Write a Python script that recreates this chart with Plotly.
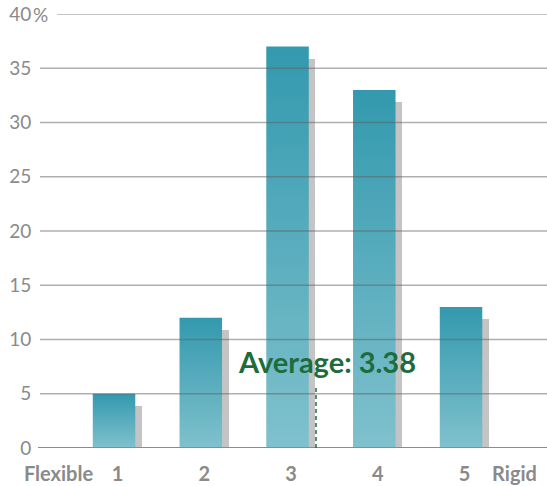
import plotly.graph_objects as go

# ---- data ----
categories = [1, 2, 3, 4, 5]
x_tick_text = ["Flexible", "1", "2", "3", "4", "5", "Rigid"]
x_tick_pos = [0.32, 1, 2, 3, 4, 5, 5.576]
values = [5, 12, 37, 33, 13]
shadow_values = [3.85, 10.85, 35.85, 31.9, 11.85]
average = 3.38
average_line_top = 5.8
y_ticks = [0, 5, 10, 15, 20, 25, 30, 35, 40]
y_tick_text = ["0", "5", "10", "15", "20", "25", "30", "35", "40"]

# ---- style ----
FONT = "Lato"
GRAY_TXT = "#8a8a8a"
TEAL_TOP = "#3399ae"
TEAL_BOT = "#80c1cd"
SHADOW = "#c4c4c4"
GREEN = "#1e6b3c"
BAR_W = 0.49
TEAL_SHIFT = -0.04
SHADOW_SHIFT = 0.075

fig = go.Figure()

# shadow bars
fig.add_trace(go.Bar(
    x=categories, y=shadow_values, width=BAR_W,
    offset=-BAR_W / 2 + TEAL_SHIFT + SHADOW_SHIFT,
    marker=dict(color=SHADOW, line=dict(width=0)),
    hoverinfo="skip", showlegend=False,
))

# teal gradient bars
for c, v in zip(categories, values):
    l = c + TEAL_SHIFT - BAR_W / 2
    r = c + TEAL_SHIFT + BAR_W / 2
    fig.add_trace(go.Scatter(
        x=[l, l, r, r, l], y=[0, v, v, 0, 0],
        mode="lines", fill="toself", line=dict(width=0),
        fillgradient=dict(type="vertical",
                          colorscale=[[0, TEAL_BOT], [1, TEAL_TOP]]),
        hoverinfo="skip", showlegend=False,
    ))

shapes = []
# gridlines above bars
for t in y_ticks[1:]:
    shapes.append(dict(
        type="line", xref="paper", yref="y", layer="above",
        xsizemode="pixel", xanchor=0,
        x0=18 if t == y_ticks[-1] else 1, x1=520, y0=t, y1=t,
        line=dict(color="rgba(95,95,95,0.5)", width=1.5),
    ))
# baseline
shapes.append(dict(
    type="line", xref="paper", yref="y", layer="above",
    xsizemode="pixel", xanchor=0, x0=-1, x1=520,
    y0=y_ticks[0], y1=y_ticks[0],
    line=dict(color="#8c8c8c", width=2),
))
# average dashed line
shapes.append(dict(
    type="line", xref="x", yref="y", layer="above",
    xsizemode="pixel", xanchor=average, x0=-8, x1=-8,
    y0=0, y1=average_line_top,
    line=dict(color=GREEN, width=1.5, dash="4px,3px"),
))

annotations = [
    dict(text="Average: %.2f" % average, x=average, y=average_line_top,
         xref="x", yref="y", xanchor="center", yanchor="bottom",
         xshift=3, yshift=4, showarrow=False,
         font=dict(family=FONT, size=29, color=GREEN, weight="bold")),
    dict(text="%", x=0, y=y_ticks[-1], xref="paper", yref="y",
         xanchor="left", yanchor="middle", xshift=-8, showarrow=False,
         font=dict(family=FONT, size=19, color=GRAY_TXT)),
]

fig.update_layout(
    width=547, height=486,
    margin=dict(l=39, r=0, t=14, b=38),
    paper_bgcolor="white", plot_bgcolor="white",
    shapes=shapes, annotations=annotations,
    bargap=0, showlegend=False,
    xaxis=dict(range=[0.095, 5.951], tickvals=x_tick_pos, ticktext=x_tick_text,
               showgrid=False, zeroline=False, showline=False,
               ticks="outside", ticklen=8, tickcolor="rgba(0,0,0,0)",
               tickfont=dict(family=FONT, size=20, color=GRAY_TXT, weight="bold"),
               fixedrange=True),
    yaxis=dict(range=[0, 40], tickvals=y_ticks, ticktext=y_tick_text,
               showgrid=False, zeroline=False, showline=False,
               ticks="outside", ticklen=3, tickcolor="rgba(0,0,0,0)",
               tickfont=dict(family=FONT, size=19, color=GRAY_TXT),
               fixedrange=True),
)

fig.write_html("out.html")
